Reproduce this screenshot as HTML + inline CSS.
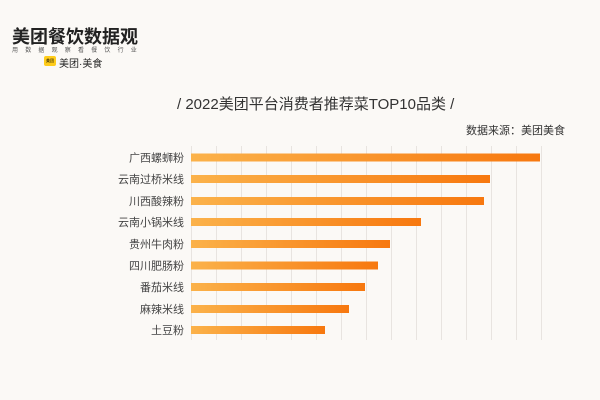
<!DOCTYPE html>
<html><head><meta charset="utf-8"><style>
body{margin:0;width:600px;height:400px;background:#fbf9f6;overflow:hidden;font-family:"Liberation Sans","Noto Sans CJK SC",sans-serif;position:relative}
.t{position:absolute;white-space:nowrap}
</style></head><body>
<div class="t" style="left:12px;top:23px;font-size:18px;font-weight:bold;color:#222">美团餐饮数据观</div>
<div class="t" style="left:12px;top:45px;font-size:6px;color:#555;letter-spacing:7.2px">用数据观察看餐饮行业</div>
<div class="t" style="left:44px;top:56px;width:12px;height:10px;background:#ffcc1a;border-radius:2px;font-size:4px;line-height:10px;text-align:center">美团</div>
<div class="t" style="left:59px;top:55px;font-size:10px;color:#222">美团·美食</div>
<div class="t" style="left:177px;top:93px;font-size:15px;color:#333">/ 2022美团平台消费者推荐菜TOP10品类 /</div>
<div class="t" style="left:466px;top:122px;font-size:11px;color:#333">数据来源：美团美食</div>
<svg width="600" height="400" style="position:absolute;left:0;top:0">
<defs><linearGradient id="g" x1="0" x2="1"><stop offset="0" stop-color="#fbb24a"/><stop offset="1" stop-color="#f7780f"/></linearGradient></defs>
<g stroke="#e8e4e0" stroke-width="1">
<line x1="191.5" y1="146" x2="191.5" y2="340"/><line x1="216.5" y1="146" x2="216.5" y2="340"/><line x1="241.5" y1="146" x2="241.5" y2="340"/><line x1="266.5" y1="146" x2="266.5" y2="340"/><line x1="291.5" y1="146" x2="291.5" y2="340"/><line x1="316.5" y1="146" x2="316.5" y2="340"/><line x1="341.5" y1="146" x2="341.5" y2="340"/><line x1="366.5" y1="146" x2="366.5" y2="340"/><line x1="391.5" y1="146" x2="391.5" y2="340"/><line x1="416.5" y1="146" x2="416.5" y2="340"/><line x1="441.5" y1="146" x2="441.5" y2="340"/><line x1="466.5" y1="146" x2="466.5" y2="340"/><line x1="491.5" y1="146" x2="491.5" y2="340"/><line x1="516.5" y1="146" x2="516.5" y2="340"/><line x1="541.5" y1="146" x2="541.5" y2="340"/>
</g>
<g fill="url(#g)">
<rect x="191" y="153.5" width="349" height="8"/>
<rect x="191" y="175" width="299" height="8"/>
<rect x="191" y="197" width="293" height="8"/>
<rect x="191" y="218" width="230" height="8"/>
<rect x="191" y="240" width="199" height="8"/>
<rect x="191" y="261.5" width="187" height="8"/>
<rect x="191" y="283" width="174" height="8"/>
<rect x="191" y="305" width="158" height="8"/>
<rect x="191" y="326" width="134" height="8"/>
</g>
<g font-size="11" fill="#444" text-anchor="end" font-family="Liberation Sans,Noto Sans CJK SC,sans-serif">
<text x="184" y="161.5">广西螺蛳粉</text>
<text x="184" y="183">云南过桥米线</text>
<text x="184" y="205">川西酸辣粉</text>
<text x="184" y="226">云南小锅米线</text>
<text x="184" y="248">贵州牛肉粉</text>
<text x="184" y="269.5">四川肥肠粉</text>
<text x="184" y="291">番茄米线</text>
<text x="184" y="313">麻辣米线</text>
<text x="184" y="334">土豆粉</text>
</g>
</svg>
</body></html>
